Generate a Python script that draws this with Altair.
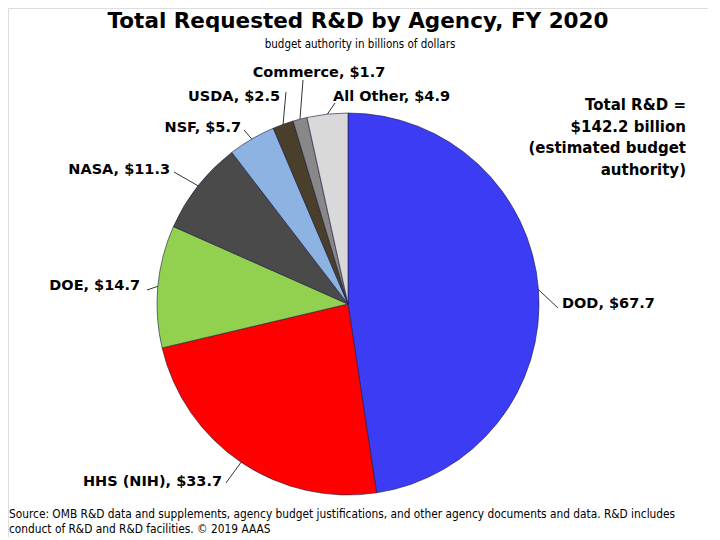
import altair as alt
import pandas as pd
import numpy as np

agencies = ["DOD", "HHS (NIH)", "DOE", "NASA", "NSF", "USDA", "Commerce", "All Other"]
values = [67.7, 33.7, 14.7, 11.3, 5.7, 2.5, 1.7, 4.9]
colors = ["#3c3cf4", "#ff0000", "#92d050", "#4a4a4a", "#8db3e2", "#4a3f2b", "#888888", "#d9d9d9"]
labels = [f"{a}, ${v}" for a, v in zip(agencies, values)]

title = "Total Requested R&D by Agency, FY 2020"
subtitle = "budget authority in billions of dollars"
total_lines = ["Total R&D =", "$142.2 billion", "(estimated budget", "authority)"]
source_lines = [
    "Source: OMB R&D data and supplements, agency budget justifications, and other agency documents and data.  R&D includes",
    "conduct of R&D and R&D facilities. \u00a9 2019 AAAS",
]

# layout (pixels, chart coordinates)
OFF = 8
CX, CY, R = 348 - OFF, 304 - OFF, 191
# label anchor positions, alignment, and leader end points
label_pos = {
    "DOD": (562, 304, "left", 558, 308),
    "HHS (NIH)": (222, 482, "right", 226, 483),
    "DOE": (140, 286, "right", 147, 290),
    "NASA": (170, 170, "right", 174, 172),
    "NSF": (241, 128, "right", 244, 130),
    "USDA": (280, 97, "right", 286, 92),
    "Commerce": (319, 73, "center", 303, 80),
    "All Other": (333, 97, "left", 335, 103),
}

df = pd.DataFrame({"agency": agencies, "value": values, "idx": range(len(agencies)), "label": labels})
cum = np.cumsum(values) - np.array(values) / 2
ang = cum / sum(values) * 2 * np.pi
df["rx"] = CX + R * np.sin(ang)
df["ry"] = CY - R * np.cos(ang)
df["lx"] = [label_pos[a][0] - OFF for a in agencies]
df["ly"] = [label_pos[a][1] - OFF for a in agencies]
df["align"] = [label_pos[a][2] for a in agencies]
df["ex"] = [label_pos[a][3] - OFF for a in agencies]
df["ey"] = [label_pos[a][4] - OFF for a in agencies]

FONT = "DejaVu Sans"
NARROW = "DejaVu Sans Condensed"

pie = alt.Chart(df).mark_arc(outerRadius=R, stroke="#1a1a40", strokeWidth=0.6).encode(
    theta=alt.Theta("value:Q", stack=True),
    order=alt.Order("idx:Q"),
    color=alt.Color("agency:N", scale=alt.Scale(domain=agencies, range=colors), legend=None),
    x=alt.value(CX),
    y=alt.value(CY),
)

leaders = alt.Chart(df).mark_rule(color="black", strokeWidth=0.8).encode(
    x=alt.X("rx:Q", scale=None), y=alt.Y("ry:Q", scale=None),
    x2="ex:Q", y2="ey:Q",
)

def label_layer(al):
    return alt.Chart(df).transform_filter(alt.datum.align == al).mark_text(
        align=al, baseline="middle", font=FONT, fontWeight="bold", fontSize=14.5, color="black"
    ).encode(x=alt.X("lx:Q", scale=None), y=alt.Y("ly:Q", scale=None), text="label:N")

tdf = pd.DataFrame({
    "t": [title, subtitle],
    "x": [358 - OFF, 360 - OFF],
    "y": [22 - OFF, 45 - OFF],
    "kind": ["title", "sub"],
})
title_t = alt.Chart(tdf).transform_filter(alt.datum.kind == "title").mark_text(
    font=FONT, fontWeight="bold", fontSize=21.5, baseline="middle", align="center", color="black"
).encode(x=alt.X("x:Q", scale=None), y=alt.Y("y:Q", scale=None), text="t:N")
sub_t = alt.Chart(tdf).transform_filter(alt.datum.kind == "sub").mark_text(
    font=NARROW, fontSize=11.5, baseline="middle", align="center", color="black"
).encode(x=alt.X("x:Q", scale=None), y=alt.Y("y:Q", scale=None), text="t:N")

tot = pd.DataFrame({"t": total_lines, "x": [686 - OFF] * 4, "y": [y - OFF for y in [105, 127, 148, 170]]})
tot_t = alt.Chart(tot).mark_text(
    font=FONT, fontWeight="bold", fontSize=15, baseline="middle", align="right", color="black"
).encode(x=alt.X("x:Q", scale=None), y=alt.Y("y:Q", scale=None), text="t:N")

src = pd.DataFrame({"t": source_lines, "x": [9 - OFF] * 2, "y": [514 - OFF, 529 - OFF]})
src_t = alt.Chart(src).mark_text(
    font=NARROW, fontSize=11.8, baseline="middle", align="left", color="black"
).encode(x=alt.X("x:Q", scale=None), y=alt.Y("y:Q", scale=None), text="t:N")

chart = alt.layer(
    pie, leaders, label_layer("left"), label_layer("right"), label_layer("center"),
    title_t, sub_t, tot_t, src_t
).properties(
    width=700, height=529, padding=0, autosize=alt.AutoSizeParams(type="none")
).configure_view(stroke=None).configure(background="white")

chart.save("out.html", embed_options={"renderer": "svg", "actions": False})
